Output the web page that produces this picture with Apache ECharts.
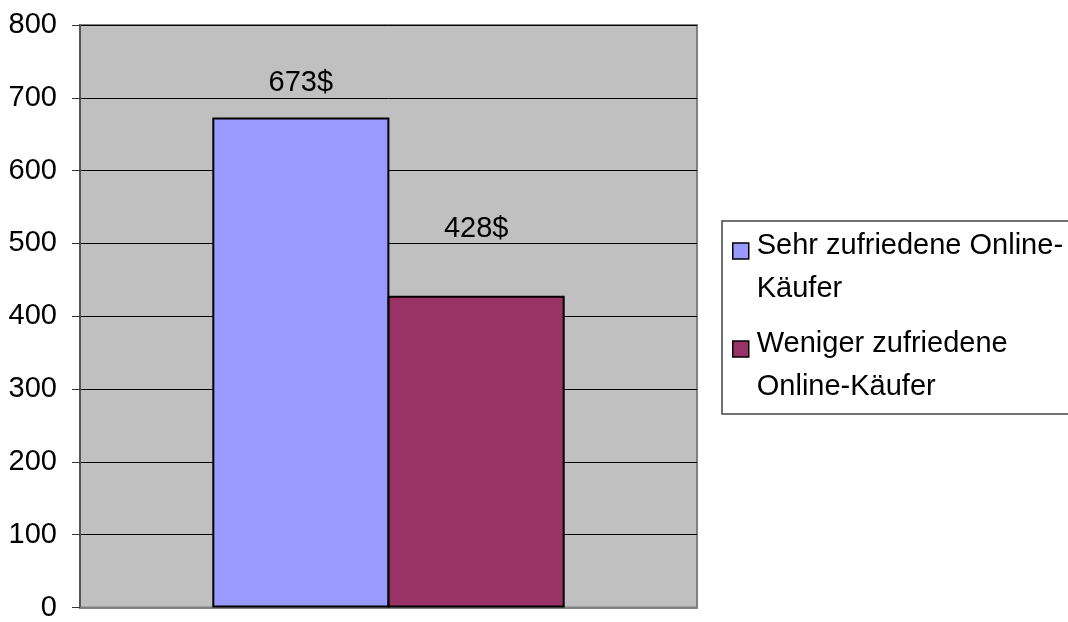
<!DOCTYPE html>
<html>
<head>
<meta charset="utf-8">
<title>Online-Käufer</title>
<script src="https://cdn.jsdelivr.net/npm/echarts@6/dist/echarts.min.js"></script>
<style>
  html, body { margin: 0; padding: 0; background: #fff; }
  #chart { width: 1068px; height: 622px; }
</style>
</head>
<body>
<div id="chart"></div>
<script>
// Daten
var categories = [''];
var seriesNames = ['Sehr zufriedene Online-Käufer', 'Weniger zufriedene Online-Käufer'];
var legendLines = {
  'Sehr zufriedene Online-Käufer': 'Sehr zufriedene Online-\nKäufer',
  'Weniger zufriedene Online-Käufer': 'Weniger zufriedene\nOnline-Käufer'
};
var sehrZufrieden = [673];
var wenigerZufrieden = [428];
var yTicks = [0, 100, 200, 300, 400, 500, 600, 700, 800];

var colors = ['#9999ff', '#993366'];
var fontFamily = '"Liberation Sans", Arial, sans-serif';

var chart = echarts.init(document.getElementById('chart'));

// Legenden-Symbol: Quadrat oben, damit es neben der ersten Zeile steht
var legendIcon = 'path://M0,0L16,0L16,16L0,16Z M0,48L0,48';

var option = {
  animation: false,
  color: colors,
  textStyle: { fontFamily: fontFamily },
  grid: {
    left: 80,
    top: 25,
    right: 371,
    bottom: 13,
    show: true,
    backgroundColor: '#c0c0c0',
    borderColor: '#808080',
    borderWidth: 2
  },
  legend: {
    orient: 'vertical',
    left: 722,
    top: 221,
    icon: legendIcon,
    itemWidth: 16,
    itemHeight: 48,
    itemGap: 12,
    padding: [3, 20, 6, 10],
    borderColor: '#444',
    borderWidth: 1.5,
    itemStyle: { borderWidth: 1.5, borderColor: '#000' },
    formatter: function (name) { return legendLines[name]; },
    textStyle: {
      fontSize: 29, color: '#000', lineHeight: 43, fontFamily: fontFamily,
      padding: [0, 0, 0, 3]
    },
    data: seriesNames
  },
  xAxis: {
    type: 'category',
    data: categories,
    axisLine: { lineStyle: { color: '#808080', width: 2 } },
    axisTick: { show: false },
    axisLabel: { show: false }
  },
  yAxis: {
    type: 'value',
    min: yTicks[0],
    max: yTicks[yTicks.length - 1],
    interval: 100,
    axisLine: { show: true, lineStyle: { color: '#555', width: 2 } },
    axisTick: { show: true, length: 8, lineStyle: { color: '#333' } },
    axisLabel: { fontSize: 29, color: '#000', margin: 23, fontFamily: fontFamily },
    splitLine: { lineStyle: { color: '#000', width: 1 } }
  },
  series: [
    {
      name: seriesNames[0],
      type: 'bar',
      data: sehrZufrieden,
      barWidth: '28.7%',
      barGap: '-1%',
      itemStyle: { borderColor: '#000', borderWidth: 2 },
      label: {
        show: true, position: 'top', distance: 20,
        formatter: '{c}$', fontSize: 29, color: '#000', fontFamily: fontFamily
      }
    },
    {
      name: seriesNames[1],
      type: 'bar',
      data: wenigerZufrieden,
      barWidth: '28.7%',
      barGap: '-1%',
      itemStyle: { borderColor: '#000', borderWidth: 2 },
      label: {
        show: true, position: 'top', distance: 52,
        formatter: '{c}$', fontSize: 29, color: '#000', fontFamily: fontFamily
      }
    }
  ]
};

chart.setOption(option);
</script>
</body>
</html>
